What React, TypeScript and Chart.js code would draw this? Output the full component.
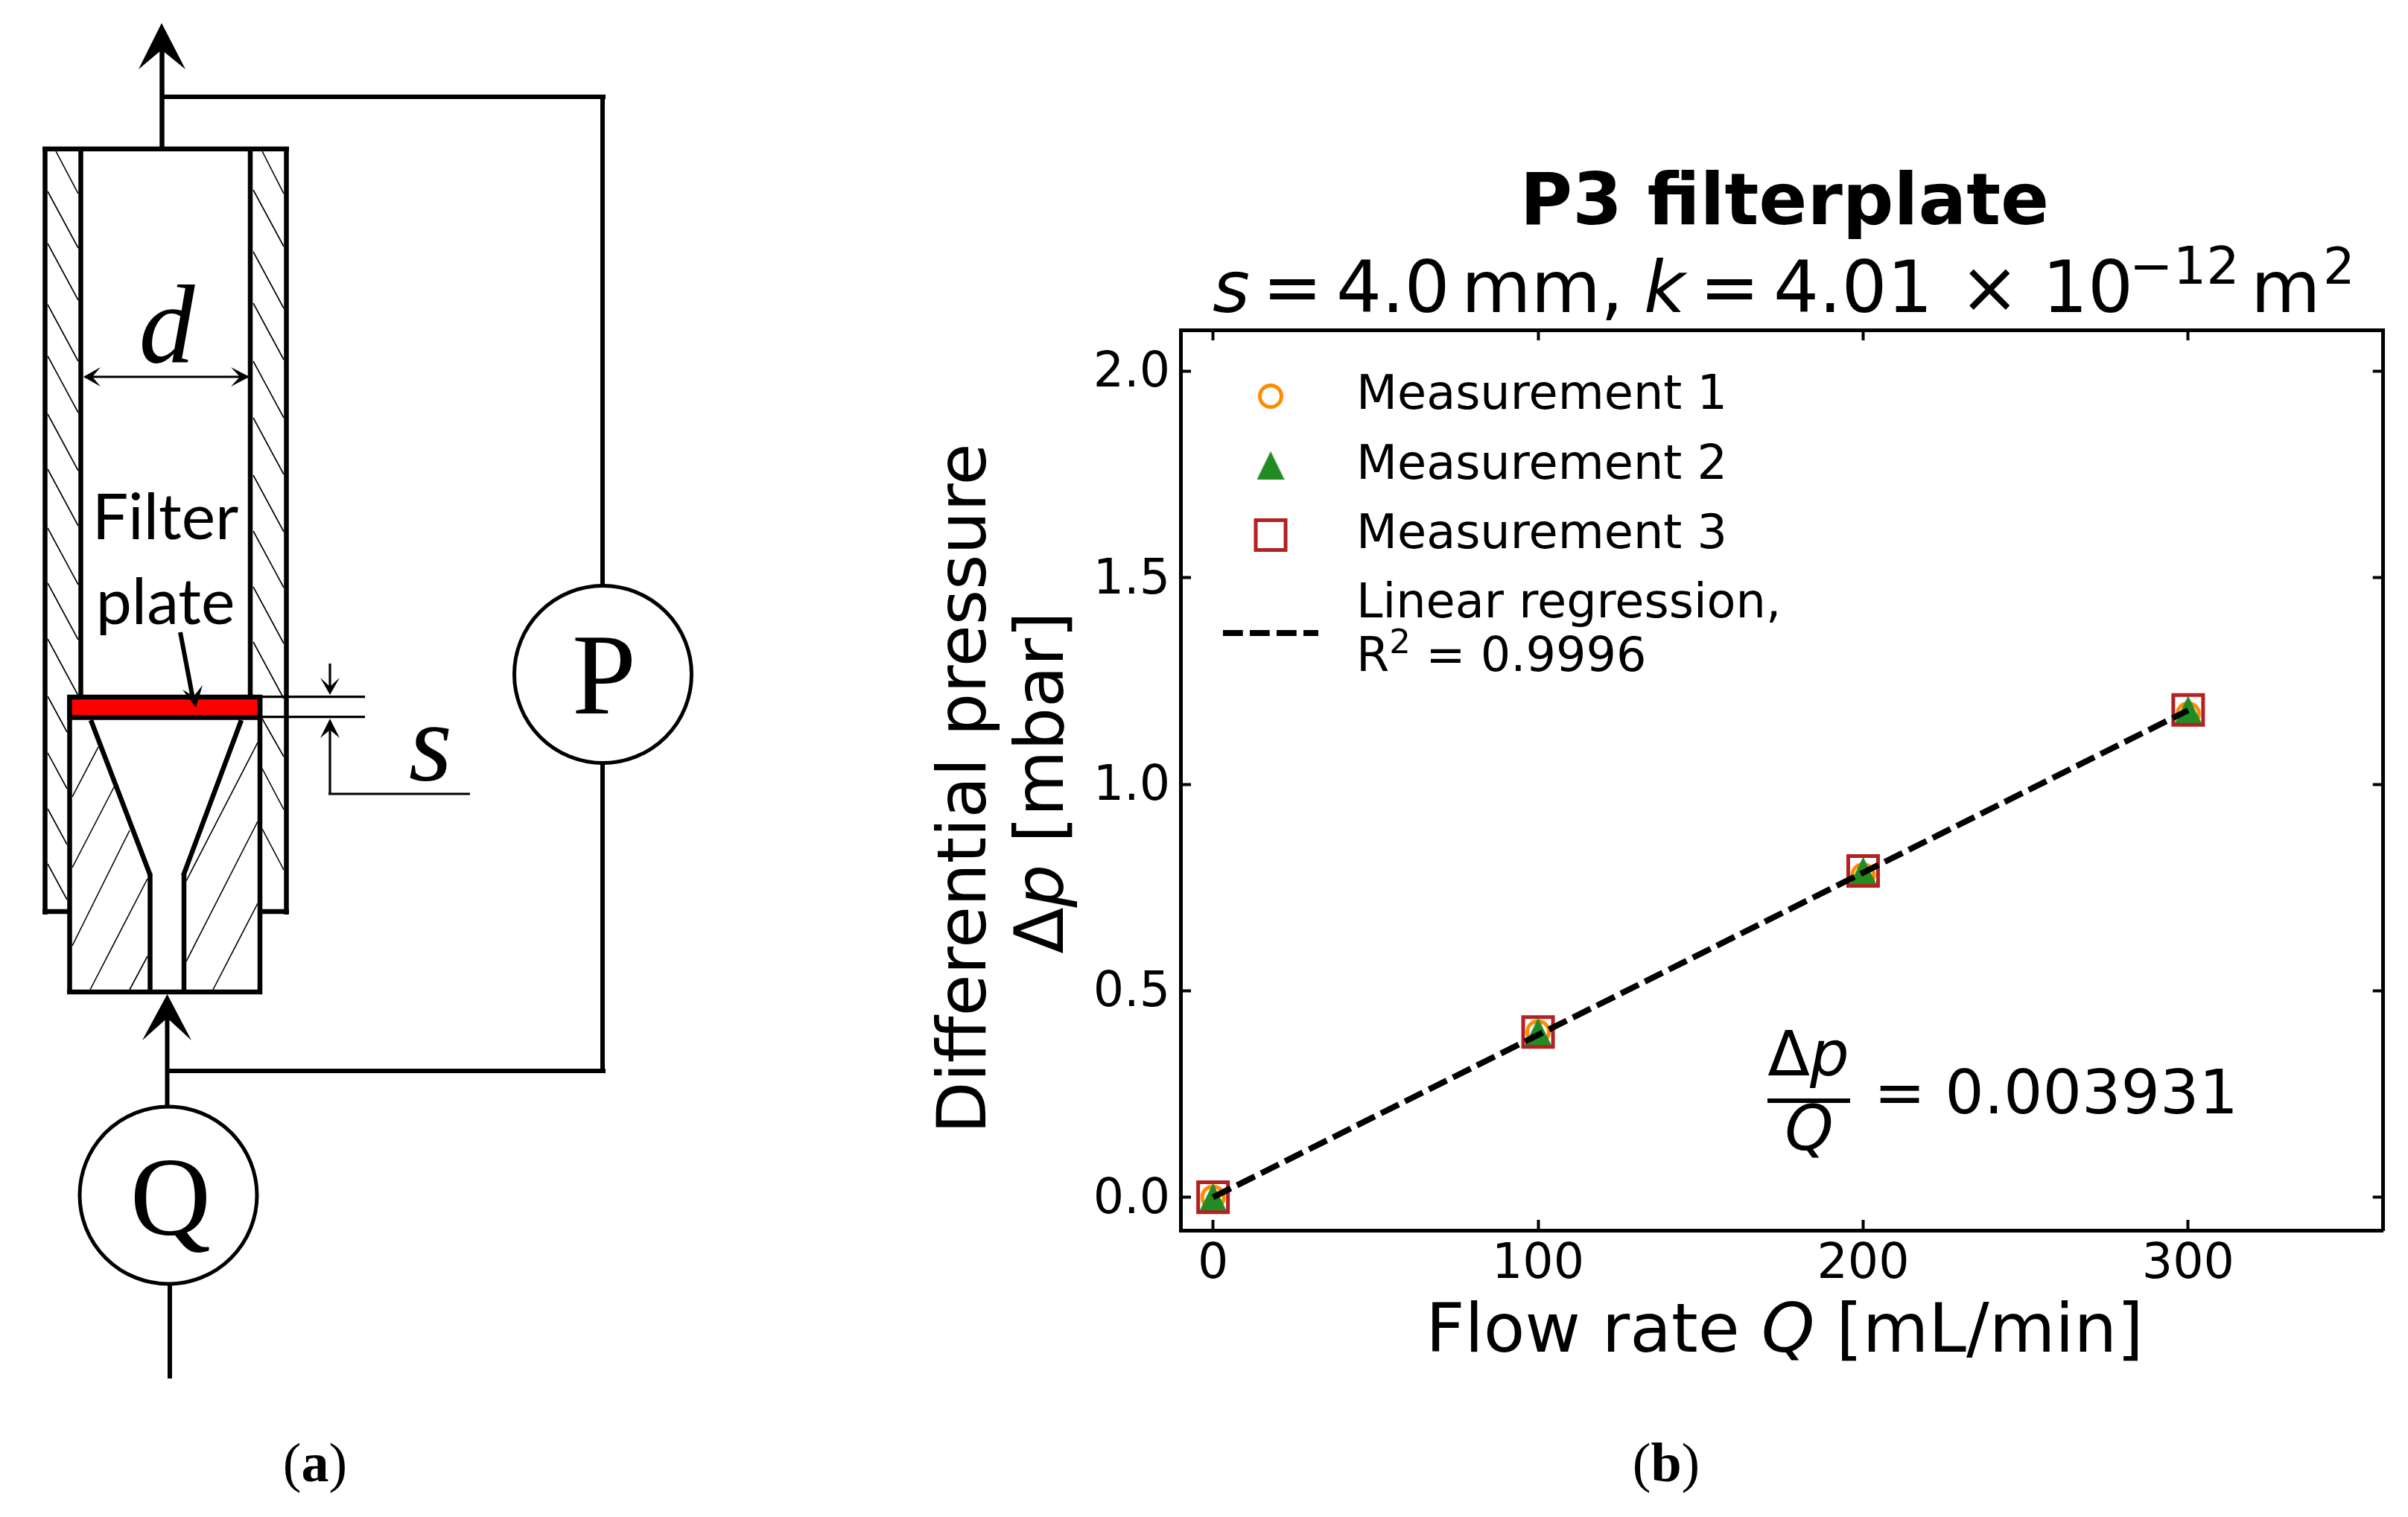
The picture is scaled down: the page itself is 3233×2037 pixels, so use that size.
import { useEffect, useRef } from "react"
import { Chart, registerables } from "chart.js"
import { drawPoint } from "chart.js/helpers"

Chart.register(...registerables)

// Data
const flowRates = [0, 100, 200, 300]
const measurement1 = [0, 0.4, 0.78, 1.17]
const measurement2 = [0, 0.4, 0.79, 1.18]
const measurement3 = [0, 0.4, 0.79, 1.18]
const regression = [0, 0.393, 0.786, 1.179]
const xTicks = [0, 100, 200, 300]
const yTicks = [0, 0.5, 1, 1.5, 2]
const legendLabels = ["Measurement 1", "Measurement 2", "Measurement 3"]

const FONT = '"DejaVu Sans"'

type Run = { text: string; italic?: boolean; bold?: boolean; size?: number; rise?: number; x?: number }

function fontOf(run: Run, size: number) {
  return `${run.italic ? "italic " : ""}${run.bold ? "bold " : ""}${run.size ?? size}px ${FONT}`
}

// draws mixed italic / superscript text; x is the centre when center is true
function drawRuns(ctx: CanvasRenderingContext2D, runs: Run[], x: number, y: number, size: number, center = false) {
  let total = 0
  for (const r of runs) {
    ctx.font = fontOf(r, size)
    total += ctx.measureText(r.text).width
  }
  let cursor = center ? x - total / 2 : x
  for (const r of runs) {
    ctx.font = fontOf(r, size)
    ctx.fillText(r.text, r.x ?? cursor, y - (r.rise ?? 0))
    cursor += ctx.measureText(r.text).width
  }
}

function triangleMarker() {
  const c = document.createElement("canvas")
  c.width = 37
  c.height = 38
  const g = c.getContext("2d")!
  g.fillStyle = "#228b22"
  g.beginPath()
  g.moveTo(18.5, 0)
  g.lineTo(37, 38)
  g.lineTo(0, 38)
  g.closePath()
  g.fill()
  return c
}

const subtitleRuns: Run[] = [
  { text: "s", italic: true, x: 1628 },
  { text: "=", x: 1695 },
  { text: "4.0", x: 1794 },
  { text: "mm,", x: 1962 },
  { text: "k", italic: true, x: 2207 },
  { text: "=", x: 2282 },
  { text: "4.01", x: 2381 },
  { text: "×", x: 2631 },
  { text: "10", x: 2742 },
  { text: "−12", size: 70, rise: 38, x: 2859 },
  { text: "m", x: 3022 },
  { text: "2", size: 67, rise: 38, x: 3119 },
]

// the y tick labels sit a few pixels lower than canvas "middle" puts them
const tickLabelNudge = {
  id: "tickLabelNudge",
  beforeDraw(chart: Chart) {
    for (const item of chart.scales.y.getLabelItems() as any[]) {
      if (!item.nudged) {
        item.options.translation[1] += 4
        item.nudged = true
      }
    }
  },
}

const textPlugin = {
  id: "panelText",
  afterDraw(chart: Chart) {
    const ctx = chart.ctx
    ctx.save()
    ctx.fillStyle = "#000"
    ctx.textBaseline = "alphabetic"
    ctx.textAlign = "left"

    drawRuns(ctx, [{ text: "P3 filterplate", bold: true }], 2396, 301, 96, true)
    drawRuns(ctx, subtitleRuns, 0, 419, 96)
    drawRuns(ctx, [{ text: "Flow rate " }, { text: "Q", italic: true }, { text: " [mL/min]" }], 2396, 1815, 91, true)

    ctx.save()
    ctx.translate(1323, 1059)
    ctx.rotate(-Math.PI / 2)
    drawRuns(ctx, [{ text: "Differential pressure" }], 0, 0, 91, true)
    ctx.restore()
    ctx.save()
    ctx.translate(1427, 1051)
    ctx.rotate(-Math.PI / 2)
    drawRuns(ctx, [{ text: "Δ" }, { text: "p", italic: true }, { text: " [mbar]" }], 0, 0, 91, true)
    ctx.restore()

    // legend
    const markerY = [532, 625, 718.5]
    legendLabels.forEach((label, i) => {
      const ds: any = chart.data.datasets[i]
      ctx.save()
      ctx.strokeStyle = ds.pointBorderColor
      ctx.fillStyle = "rgba(0,0,0,0)"
      ctx.lineWidth = ds.pointBorderWidth
      drawPoint(ctx, { pointStyle: ds.pointStyle, radius: ds.pointRadius, borderWidth: ds.pointBorderWidth, rotation: 0 }, 1706, markerY[i])
      ctx.restore()
      drawRuns(ctx, [{ text: label }], 1821, 549 + i * 93.5, 63.7)
    })
    const reg: any = chart.data.datasets[3]
    ctx.save()
    ctx.strokeStyle = reg.borderColor
    ctx.lineWidth = reg.borderWidth
    ctx.setLineDash(reg.borderDash)
    ctx.beginPath()
    ctx.moveTo(1642, 850)
    ctx.lineTo(1770, 850)
    ctx.stroke()
    ctx.restore()
    drawRuns(ctx, [{ text: "Linear regression," }], 1821, 829, 63.7)
    drawRuns(ctx, [{ text: "R" }, { text: "2", size: 45, rise: 24 }, { text: " = 0.9996" }], 1821, 901, 63.7)

    // slope annotation
    drawRuns(ctx, [{ text: "Δ" }, { text: "p", italic: true }], 2428, 1444, 83, true)
    ctx.fillRect(2373, 1475, 111, 6)
    drawRuns(ctx, [{ text: "Q", italic: true }], 2429, 1544, 83, true)
    drawRuns(ctx, [{ text: "= 0.003931" }], 2516, 1495, 82.5)
    ctx.restore()
  },
}

// hatch lines of the schematic: x1, y1, x2, y2
const channelStartsLeft = [257, 327, 409, 478, 556, 630, 709, 783, 858, 935, 1011, 1086, 1160]
const channelStartsRight = [255, 338, 407, 485, 561, 638, 713, 788, 862]
const hatches: number[][] = [
  [75, 203, 105, 260],
  [352, 203, 381, 260],
  ...channelStartsLeft.map((y) => (y < 900 ? [64, y, 105, y + 76] : [64, y, 90, y + 48])),
  ...channelStartsRight.map((y) => [340, y, 381, y + 76]),
  [352, 965, 381, 1016],
  [352, 1032, 381, 1087],
  [352, 1113, 381, 1168],
  [97, 1070, 132, 1003],
  [97, 1165, 153, 1057],
  [97, 1270, 174, 1115],
  [121, 1329, 198, 1180],
  [174, 1329, 198, 1284],
  [250, 1183, 346, 997],
  [250, 1291, 346, 1103],
  [286, 1329, 346, 1213],
]

// thick outlines of the schematic
const thickLines: number[][] = [
  [60.5, 197, 60.5, 1228],
  [108.5, 197, 108.5, 935],
  [336, 197, 336, 935],
  [384.5, 197, 384.5, 1228],
  [57, 200, 388, 200],
  [57, 1224, 94, 1224],
  [349, 1224, 388, 1224],
  [93.5, 933, 93.5, 1335],
  [349, 933, 349, 1335],
  [90, 1332, 352, 1332],
  [122, 967, 202, 1176],
  [324, 967, 246, 1176],
  [201.5, 1174, 201.5, 1332],
  [247, 1174, 247, 1332],
  [217.5, 60, 217.5, 200],
]

const wires: number[][] = [
  [215, 130, 813, 130],
  [809, 130, 809, 786],
  [809, 1025, 809, 1441],
  [224, 1438, 813, 1438],
  [224.5, 1360, 224.5, 1485],
  [228, 1725, 228, 1851],
]

const fineLines: number[][] = [
  [352, 935.7, 490, 935.7],
  [352, 962.7, 490, 962.7],
  [443, 891, 443, 925],
  [443, 975, 443, 1067],
  [441, 1066, 631, 1066],
  [114, 506, 333, 506],
]

const arrowHeads = [
  "217,31 186,93 217,67 249,93",
  "224.5,1335 191,1397 224.5,1367 257,1397",
  "263,950 245,926 260,935 272,920",
  "443,933 430,910 443,922 456,910",
  "443,965 430,991 443,980 456,991",
  "112,506 135,493 124,506 135,519",
  "335,506 310,493 322,506 310,519",
]

function Schematic() {
  const line = (l: number[], i: number, width: number) => (
    <line key={i} x1={l[0]} y1={l[1]} x2={l[2]} y2={l[3]} stroke="#000" strokeWidth={width} />
  )
  const serif = "Liberation Serif"
  return (
    <svg width={3233} height={2037} style={{ position: "absolute", left: 0, top: 0, pointerEvents: "none" }}>
      {hatches.map((l, i) => line(l, i, 1.6))}
      {thickLines.map((l, i) => line(l, i, 6.5))}
      {wires.map((l, i) => line(l, i, 6))}
      {fineLines.map((l, i) => line(l, i, 3.2))}
      <rect x={93.5} y={936} width={255.5} height={27.5} fill="#ff0000" stroke="#000" strokeWidth={6.5} />
      {line([242, 849, 259, 938], 0, 6)}
      {arrowHeads.map((p) => (
        <polygon key={p} points={p} fill="#000" />
      ))}
      <circle cx={809.5} cy={905.5} r={119} fill="none" stroke="#000" strokeWidth={5} />
      <circle cx={226} cy={1605} r={119} fill="none" stroke="#000" strokeWidth={5} />
      <text x={811} y={958} textAnchor="middle" fontFamily={serif} fontSize={155}>P</text>
      <text x={229} y={1658} textAnchor="middle" fontFamily={serif} fontSize={150}>Q</text>
      <text x={224} y={486} textAnchor="middle" fontFamily={serif} fontStyle="italic" fontSize={150}>d</text>
      <text x={578} y={1048} textAnchor="middle" fontFamily={serif} fontStyle="italic" fontSize={150}>s</text>
      <text x={222} y={724} textAnchor="middle" fontFamily="Lato" fontSize={86}>Filter</text>
      <text x={222} y={838} textAnchor="middle" fontFamily="Lato" fontSize={86}>plate</text>
      <text x={423} y={1989} textAnchor="middle" fontFamily={serif} fontSize={74}>
        (<tspan fontWeight="bold">a</tspan>)
      </text>
      <text x={2237} y={1989} textAnchor="middle" fontFamily={serif} fontSize={74}>
        (<tspan fontWeight="bold">b</tspan>)
      </text>
    </svg>
  )
}

export default function App() {
  const canvasRef = useRef<HTMLCanvasElement>(null)

  useEffect(() => {
    document.body.style.margin = "0"
    if (!canvasRef.current) return

    const toPoints = (values: number[]) => values.map((y, i) => ({ x: flowRates[i], y }))
    const setTicks = (values: number[]) => (scale: any) => {
      scale.ticks = values.map((value) => ({ value }))
    }
    // fixed axis thickness, and no extra room for labels that overhang the axis
    const fitAxis = (size: number) => (s: any) => {
      if (s.isHorizontal()) s.height = size
      else s.width = size
      s.paddingLeft = s.paddingRight = s.paddingTop = s.paddingBottom = 0
    }
    const tickGrid = { drawOnChartArea: false, tickLength: -14, tickWidth: 4, tickColor: "#000" }
    const border = { color: "#000", width: 5 }
    const tickFont = { family: "DejaVu Sans", size: 65 }

    const chart = new Chart(canvasRef.current, {
      type: "scatter",
      data: {
        datasets: [
          {
            label: legendLabels[0],
            data: toPoints(measurement1),
            pointStyle: "circle",
            pointRadius: 14.5,
            pointBorderWidth: 5,
            pointBorderColor: "#ff8c00",
            pointBackgroundColor: "rgba(0,0,0,0)",
            order: 3,
          },
          {
            label: legendLabels[1],
            data: toPoints(measurement2),
            pointStyle: triangleMarker(),
            pointRadius: 19,
            pointBorderWidth: 0,
            pointBorderColor: "#228b22",
            order: 2,
          },
          {
            label: legendLabels[2],
            data: toPoints(measurement3),
            pointStyle: "rect",
            pointRadius: 28.3,
            pointBorderWidth: 5,
            pointBorderColor: "#b22222",
            pointBackgroundColor: "rgba(0,0,0,0)",
            order: 1,
          },
          {
            label: "Linear regression",
            data: toPoints(regression),
            showLine: true,
            pointRadius: 0,
            borderColor: "#000",
            borderWidth: 8,
            borderDash: [26.7, 9.3],
            order: 0,
          },
        ] as any,
      },
      options: {
        animation: false,
        responsive: false,
        devicePixelRatio: 1,
        layout: { padding: { left: 1420, top: 443, right: 25, bottom: 250 } },
        plugins: { legend: { display: false }, title: { display: false }, tooltip: { enabled: false } },
        scales: {
          x: {
            type: "linear",
            position: "bottom",
            min: -10,
            max: 360,
            afterBuildTicks: setTicks(xTicks),
            afterFit: fitAxis(135),
            border,
            grid: tickGrid,
            ticks: { font: tickFont, color: "#000", padding: 22, maxRotation: 0, autoSkip: false, callback: (v: any) => String(v) },
          },
          y: {
            type: "linear",
            position: "left",
            min: -0.08,
            max: 2.1,
            afterBuildTicks: setTicks(yTicks),
            afterFit: fitAxis(165),
            border,
            grid: tickGrid,
            ticks: { font: tickFont, color: "#000", padding: 28, autoSkip: false, callback: (v: any) => Number(v).toFixed(1) },
          },
          x2: {
            type: "linear",
            axis: "x",
            position: "top",
            min: -10,
            max: 360,
            afterBuildTicks: setTicks(xTicks),
            afterFit: fitAxis(0),
            border,
            grid: tickGrid,
            ticks: { display: false },
          },
          y2: {
            type: "linear",
            axis: "y",
            position: "right",
            min: -0.08,
            max: 2.1,
            afterBuildTicks: setTicks(yTicks),
            afterFit: fitAxis(0),
            border,
            grid: tickGrid,
            ticks: { display: false },
          },
        } as any,
      },
      plugins: [tickLabelNudge, textPlugin],
    })

    return () => chart.destroy()
  }, [])

  return (
    <div style={{ position: "relative", width: 3233, height: 2037, background: "#fff", overflow: "hidden" }}>
      <canvas ref={canvasRef} width={3233} height={2037} style={{ position: "absolute", left: 0, top: 0 }} />
      <Schematic />
    </div>
  )
}
